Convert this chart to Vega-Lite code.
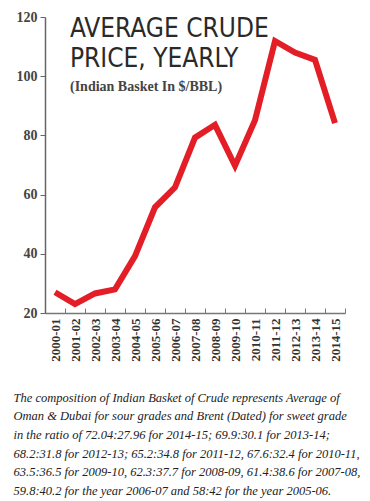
{
  "$schema": "https://vega.github.io/schema/vega-lite/v6.json",
  "autosize": {"type": "none"},
  "width": 300,
  "height": 296,
  "padding": {"left": 45, "top": 17, "right": 25, "bottom": 188},
  "background": "white",
  "title": {
    "text": ["AVERAGE CRUDE", "PRICE, YEARLY"],
    "subtitle": "(Indian Basket In $/BBL)",
    "anchor": "start",
    "frame": "group",
    "orient": "top",
    "offset": -84,
    "dx": 25,
    "font": "DejaVu Sans Condensed",
    "fontSize": 26,
    "fontWeight": "normal",
    "lineHeight": 30,
    "color": "#2a2a2a",
    "subtitleFont": "Liberation Serif",
    "subtitleFontSize": 14,
    "subtitleFontWeight": "bold",
    "subtitleColor": "#444444",
    "subtitlePadding": 8
  },
  "data": {
    "values": [
      {"year": "2000-01", "price": 27.0},
      {"year": "2001-02", "price": 23.0},
      {"year": "2002-03", "price": 26.6},
      {"year": "2003-04", "price": 27.97},
      {"year": "2004-05", "price": 39.21},
      {"year": "2005-06", "price": 55.72},
      {"year": "2006-07", "price": 62.46},
      {"year": "2007-08", "price": 79.25},
      {"year": "2008-09", "price": 83.57},
      {"year": "2009-10", "price": 69.76},
      {"year": "2010-11", "price": 85.09},
      {"year": "2011-12", "price": 111.89},
      {"year": "2012-13", "price": 107.97},
      {"year": "2013-14", "price": 105.52},
      {"year": "2014-15", "price": 84.16}
    ]
  },
  "mark": {"type": "line", "color": "#e31e26", "strokeWidth": 6, "strokeJoin": "miter", "strokeCap": "butt"},
  "encoding": {
    "x": {
      "field": "year",
      "type": "ordinal",
      "sort": null,
      "scale": {"type": "band", "paddingInner": 0, "paddingOuter": 0},
      "axis": {
        "title": [
          "The composition of Indian Basket of Crude represents Average of",
          "Oman & Dubai for sour grades and Brent (Dated) for sweet grade",
          "in the ratio of 72.04:27.96 for 2014-15; 69.9:30.1 for 2013-14;",
          "68.2:31.8 for 2012-13; 65.2:34.8 for 2011-12, 67.6:32.4 for 2010-11,",
          "63.5:36.5 for 2009-10, 62.3:37.7 for 2008-09, 61.4:38.6 for 2007-08,",
          "59.8:40.2 for the year 2006-07 and 58:42 for the year 2005-06."
        ],
        "titleFont": "Liberation Serif",
        "titleFontStyle": "italic",
        "titleFontWeight": "normal",
        "titleFontSize": 12.5,
        "titleLineHeight": 18.7,
        "titleColor": "#222222",
        "titleAnchor": "start",
        "titleAlign": "left",
        "titleBaseline": "top",
        "titleX": -32,
        "titleY": 78,
        "tickBand": "extent",
        "tickSize": -5,
        "tickColor": "#777777",
        "tickWidth": 1,
        "domainColor": "#777777",
        "domainWidth": 1.5,
        "labelAngle": -90,
        "labelFont": "Liberation Serif",
        "labelFontWeight": "bold",
        "labelFontSize": 13,
        "labelColor": "#333333",
        "labelPadding": 10,
        "labelBaseline": "middle"
      }
    },
    "y": {
      "field": "price",
      "type": "quantitative",
      "scale": {"domain": [20, 120], "nice": false, "zero": false},
      "axis": {
        "title": null,
        "values": [20, 40, 60, 80, 100, 120],
        "grid": false,
        "tickSize": 5,
        "tickColor": "#666666",
        "domainColor": "#666666",
        "domainWidth": 1.5,
        "labelFont": "Liberation Serif",
        "labelFontWeight": "bold",
        "labelFontSize": 14,
        "labelColor": "#444444",
        "labelPadding": 3
      }
    }
  },
  "config": {"view": {"stroke": null}}
}
